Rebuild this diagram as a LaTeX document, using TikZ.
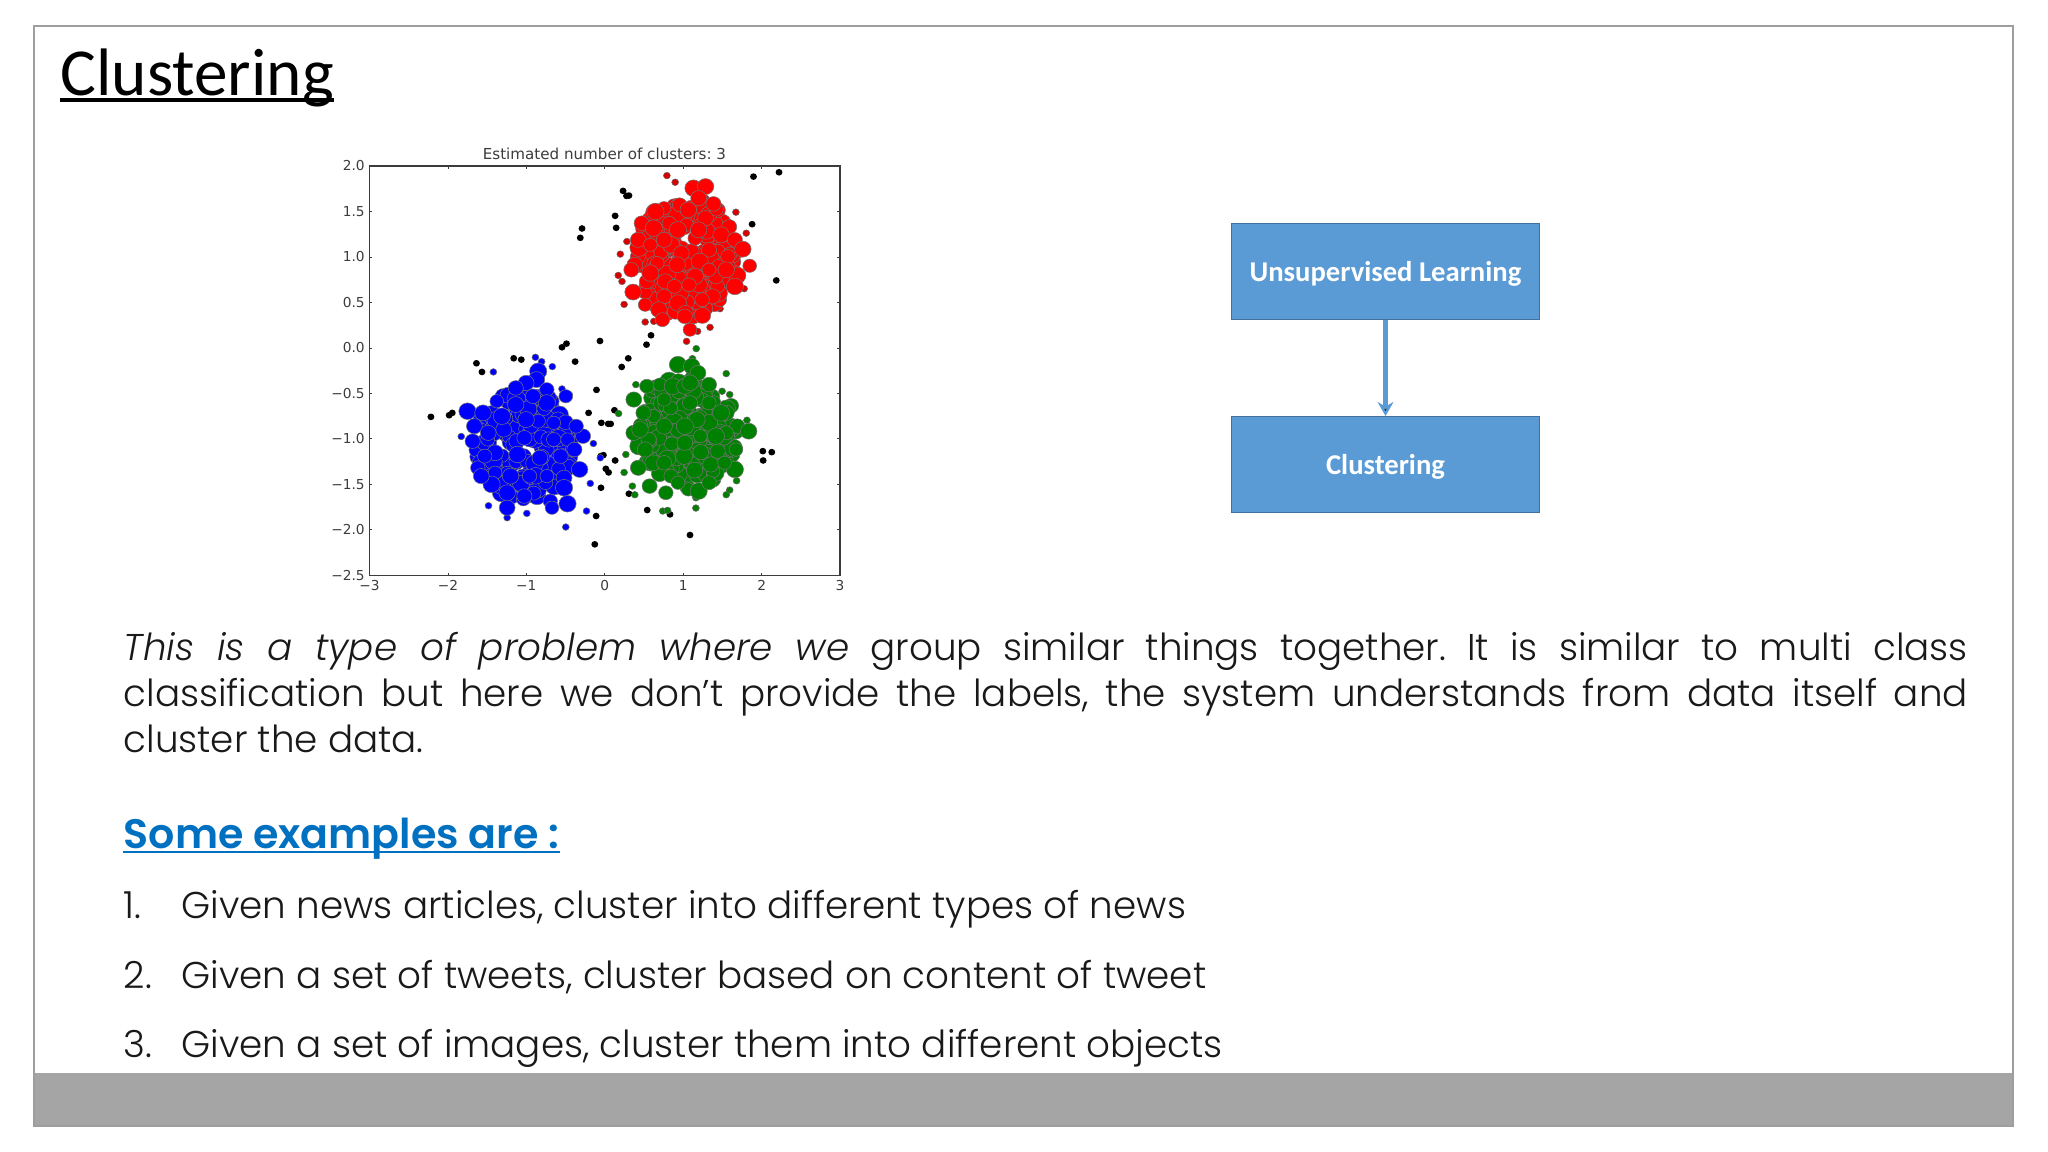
\documentclass[tikz,border=0pt]{standalone}
\usepackage{fontspec}
\usetikzlibrary{arrows.meta}
\setmainfont{Poppins Light}[ItalicFont={Poppins Light Italic},BoldFont={Poppins SemiBold}]
\newfontfamily\plotfont{DejaVu Sans}
\newfontfamily\boxfont{Carlito}
\definecolor{boxblue}{HTML}{5B9BD5}
\definecolor{boxedge}{HTML}{41719C}
\definecolor{headblue}{HTML}{0070C0}
\definecolor{bandgray}{HTML}{A5A5A5}
\definecolor{plotgray}{HTML}{3C3C3C}
\frenchspacing
\begin{document}
\begin{tikzpicture}[x=0.01cm, y=-0.01cm, node distance=1.93cm,
	main/.style = {rectangle, draw=boxedge, fill=boxblue, line width=0.3pt, minimum width=3.07cm, minimum height=0.96cm, text=white, text height=7.4pt, text depth=1.5pt, font=\boxfont\bfseries\fontsize{8.15}{9}\selectfont},
	line/.style = {anchor=base west, inner sep=0pt, text=black!90, font=\fontsize{10.6}{12}\selectfont},
	ticklabel/.style = {inner sep=0pt, text=plotgray, font=\plotfont\fontsize{3.9}{4}\selectfont},
	bigdot/.style = {draw=black!55, line width=0.15pt},
	smalldot/.style = {draw=black!60, line width=0.15pt}]
	\useasboundingbox (0,0) rectangle (2048,1152);
	\fill[white] (0,0) rectangle (2048,1152);
	\fill[bandgray] (34,1073) rectangle (2013,1126);
	\draw[black!38, line width=0.4pt] (34,26) rectangle (2013,1126);

	\node[anchor=base west, inner sep=0pt, font=\boxfont\fontsize{19.1}{20}\selectfont] (title) at (60,96) {Clustering};
	\draw[line width=1.1pt] ([yshift=-1.2pt]title.base west) -- ([yshift=-1.2pt]title.base east);

	\begin{scope}[shift={(319.1,130)}, x=0.00345cm, y=-0.003333cm]
		\foreach \cx/\cy in {1259/140,1333/127,881/183,891/198,898/197,858/258,861/294,762/296,757/324,1255/283,1325/452,962/617,949/645,814/634,717/642,704/653,564/686,586/690,742/696,456/701,472/727,896/686,877/712,804/781,781/850,856/842,818/880,838/883,845/883,324/862,377/857,386/850,824/977,816/980,858/993,831/1018,839/1029,817/1075,898/1093,951/1142,1017/1155,803/1160,799/1245,1075/1217,1286/965,1312/968,1287/993}
			\fill[black] (\cx,\cy) circle (10);
		\foreach \cx/\cy in {1008/137,1032/157,1208/247,1238/310,892/335,873/373,867/437,878/455,884/524,945/577,1133/593,1097/605,1065/635,1162/537,1232/477,970/575}
			\filldraw[smalldot, fill=red!85!black] (\cx,\cy) circle (10);
		\foreach \cx/\cy in {1093/657,1082/687,1180/732,918/765,1168/785,1190/795,868/852,1240/872,889/975,884/1029,908/1070,915/1096,1210/1054,1190/1082,1180/1096,1092/1136,996/1145,1010/1143,1092/1105}
			\filldraw[smalldot, fill=green!50!black] (\cx,\cy) circle (10);
		\foreach \cx/\cy in {627/683,645/696,676/711,505/727,704/778,725/795,412/921,795/942,815/985,786/1062,491/1129,602/1152,775/1145,715/1193,545/1165}
			\filldraw[smalldot, fill=blue] (\cx,\cy) circle (10);
		\pgfmathsetseed{42}
		\foreach \k in {1,...,170} {
			\pgfmathsetmacro\ang{rnd*360}
			\pgfmathsetmacro\rad{sqrt(rnd)}
			\filldraw[bigdot, fill=red] ({1065+145*\rad*cos(\ang)},{385+185*\rad*sin(\ang)}) circle ({20+mod(\k*5,8)});
			\pgfmathsetmacro\ang{rnd*360}
			\pgfmathsetmacro\rad{sqrt(rnd)}
			\filldraw[bigdot, fill=green!50!black] ({1065+145*\rad*cos(\ang)},{905+170*\rad*sin(\ang)}) circle ({20+mod(\k*5,8)});
			\pgfmathsetmacro\ang{rnd*360}
			\pgfmathsetmacro\rad{sqrt(rnd)}
			\filldraw[bigdot, fill=blue] ({595+140*\rad*cos(\ang)},{945+165*\rad*sin(\ang)}) circle ({20+mod(\k*5,8)});
		}
		\foreach \cx/\cy [count=\k] in {1085/175,1120/170,1100/205,1143/222,1045/225,1000/235,975/245,1070/240,1120/265,935/280,1015/280,1065/285,970/295,1165/315,925/330,1205/330,1090/325,960/345,1020/345,1228/358,1050/370,1130/360,1185/380,980/400,1103/395,1038/405,915/405,905/420,1158/410,1248/408,1212/437,1090/440,1003/455,950/455,1072/465,1155/470,1205/470,910/487,1140/500,1000/500,1110/510,945/525,1040/520,985/540,1062/550,1060/560,995/570,1075/600,1040/300,1100/300,1000/330,1150/440,1030/470,1130/420,960/430,1180/420}
			\filldraw[bigdot, fill=red] (\cx,\cy) circle ({20+mod(\k*5,6)});
		\foreach \cx/\cy [count=\k] in {1040/705,1080/710,1098/730,1130/765,950/770,988/765,1025/770,1060/770,912/810,1075/820,1018/835,970/860,1130/880,1095/870,1180/850,1212/890,1180/910,1208/960,1205/1020,1245/905,912/910,955/930,1022/943,1105/920,1058/980,968/1000,925/1015,958/1070,1005/1090,1070/1080,1100/1085,1088/1022,1135/1005,1155/965,1020/1040,1175/1000,1060/890,1000/890,945/960,1000/1000,1130/1060,1040/1060,1165/850,1075/760,1060/940,940/850,1130/820,1000/810,1150/920,930/900}
			\filldraw[bigdot, fill=green!50!black] (\cx,\cy) circle ({20+mod(\k*5,6)});
		\foreach \cx/\cy [count=\k] in {635/725,630/750,600/760,570/775,660/780,515/815,430/845,475/850,450/890,445/935,460/1015,510/1030,500/1065,545/1090,545/1135,595/1100,670/1115,675/1135,720/1123,755/1020,710/1045,765/920,745/890,715/800,660/820,570/825,535/900,595/925,635/875,720/930,575/975,510/970,640/985,700/980,610/1040,660/1040,710/1075,555/1040,490/910,620/800,480/980,680/880,530/860,600/870,470/1040,740/960,680/930}
			\filldraw[bigdot, fill=blue] (\cx,\cy) circle ({20+mod(\k*5,6)});
		\draw[plotgray, line width=0.4pt] (146,108) rectangle (1510,1338);
		\foreach \v [count=\k from 0] in {−3,−2,−1,0,1,2,3} {
			\draw[plotgray, line width=0.2pt] ({146+227.33*\k},1338) -- ++(0,-8);
			\draw[plotgray, line width=0.2pt] ({146+227.33*\k},108) -- ++(0,8);
			\node[ticklabel] (xtick\k) at ({146+227.33*\k},1368) {\v};
		}
		\foreach \v [count=\k from 0] in {2.0,1.5,1.0,0.5,0.0,−0.5,−1.0,−1.5,−2.0,−2.5} {
			\draw[plotgray, line width=0.2pt] (146,{108+136.67*\k}) -- ++(8,0);
			\draw[plotgray, line width=0.2pt] (1510,{108+136.67*\k}) -- ++(-8,0);
			\node[ticklabel, anchor=east] (ytick\k) at (134,{108+136.67*\k}) {\v};
		}
		\node[ticklabel, font=\plotfont\fontsize{4.3}{5}\selectfont] (plottitle) at (827,73) {Estimated number of clusters: 3};
	\end{scope}

	\node[main] (unsup) at (1385.5,271.5) {Unsupervised Learning};
	\node[main] (clust) [below of=unsup] {Clustering};
	\path[-{Stealth[length=4pt,width=4.5pt]}, draw=boxblue, line width=1.3pt]
		(unsup) edge (clust);

	\node[anchor=north west, inner sep=0pt, text width=18.43cm, align=justify, text=black!90, font=\fontsize{10.6}{13.1}\selectfont] (para) at (123,631.5) {{\itshape This is a type of problem where we} group similar things together. It is similar to multi class\linebreak classification but here we don’t provide the labels, the system understands from data itself and\linebreak cluster the data.};

	\node[line, text=headblue, font=\bfseries\fontsize{11.7}{13}\selectfont] (head) at (123,848) {Some examples are :};
	\draw[headblue, line width=0.6pt] ([yshift=-1.2pt]head.base west) -- ([yshift=-1.2pt]head.base east);

	\node[line] (num1) at (123,918) {1.};
	\node[line] (item1) at (181,918) {Given news articles, cluster into different types of news};
	\node[line] (num2) at (123,988) {2.};
	\node[line] (item2) at (181,988) {Given a set of tweets, cluster based on content of tweet};
	\node[line] (num3) at (123,1057) {3.};
	\node[line] (item3) at (181,1057) {Given a set of images, cluster them into different objects};
\end{tikzpicture}
\end{document}
